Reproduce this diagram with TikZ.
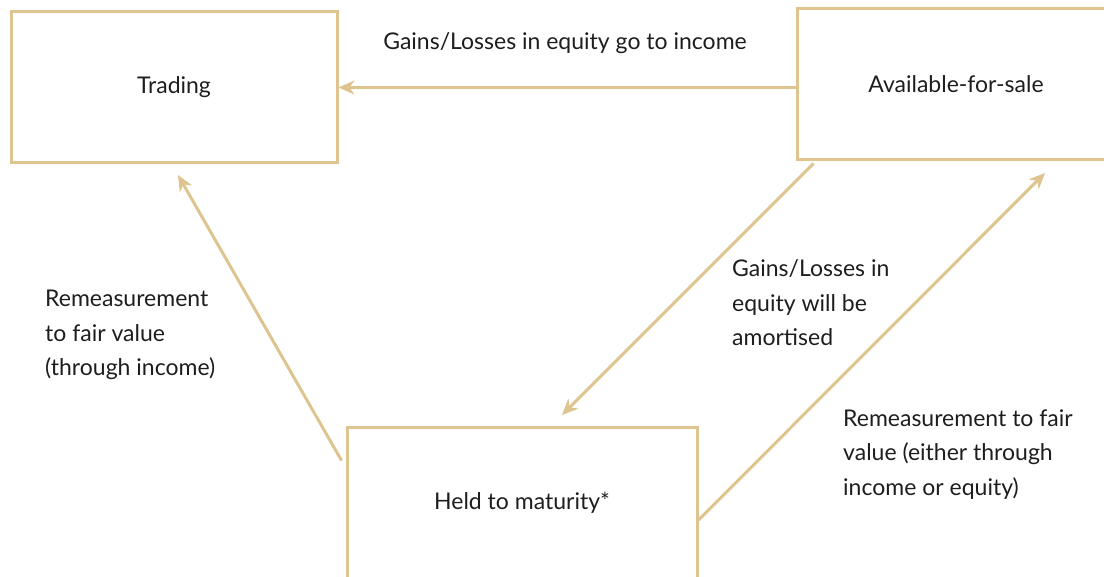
\documentclass[tikz,border=0pt]{standalone}
\usepackage{fontspec}
\setmainfont{Lato}
\usepackage{tikz}
\usetikzlibrary{arrows.meta,calc}
\definecolor{FlowTan}{HTML}{DEC48E}
\definecolor{LabelInk}{HTML}{1E1E1E}
\tikzset{
  account/.style={draw=FlowTan,line width=3pt,rectangle,text=LabelInk,font=\fontsize{23}{34.5}\selectfont},
  flow/.style={FlowTan,line width=3pt,-{Stealth[length=16pt,width=14pt]}},
  note/.style={text=LabelInk,font=\fontsize{23}{34.5}\selectfont,align=left,inner sep=0pt}
}

\begin{document}
\begin{tikzpicture}[x=1pt,y=-1pt]
    \useasboundingbox (0,0) rectangle (1104,577);
    \clip (0,0) rectangle (1104,577);
    \node[account,minimum width=326pt,minimum height=151pt] (trading) at (174,87.5) {Trading};
    \node[account,minimum width=318pt,minimum height=151pt] (afs) at (956,84.5) {Available-for-sale};
    \node[account,minimum width=350pt,minimum height=150pt] (htm) at (522,503) {Held to maturity*};

    \coordinate (toHtm) at (562,415);
    \coordinate (toAfs) at (1045,173);
    \coordinate (toTrading) at (178,175);

    \draw[flow] (trading.east -| afs.west) -- (trading.east);
    \draw[flow] ($(afs.south west)+(18,2)$) -- (toHtm);
    \draw[flow] ($(htm.east)+(0,17)$) -- (toAfs);
    \draw[flow] ($(htm.north west)+(-4,34)$) -- (toTrading);

    \node[note,anchor=base] (lblIncome) at (565,50) {Gains/Losses in equity go to income};
    \node[note,anchor=base west] (lblTrading) at (45,376) {Remeasurement\\to fair value\\(through income)};
    \node[note,anchor=base west] (lblAmort) at (732,346) {Gains/Losses in\\equity will be\\amortised};
    \node[note,anchor=base west] (lblFair) at (843,495) {Remeasurement to fair\\value (either through\\income or equity)};
\end{tikzpicture}
\end{document}
